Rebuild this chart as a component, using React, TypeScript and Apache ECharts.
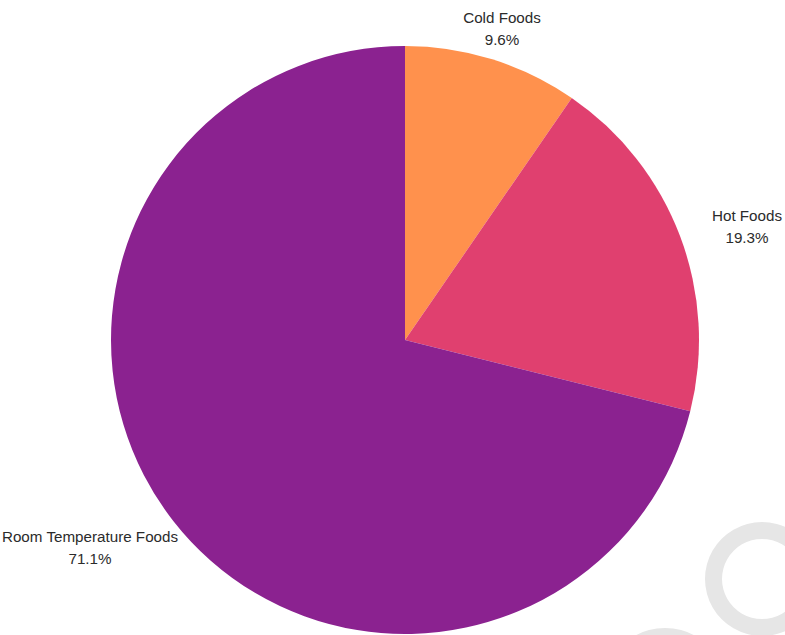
import React, { useEffect, useRef } from 'react';
import * as echarts from 'echarts';

const categories = ['Cold Foods', 'Hot Foods', 'Room Temperature Foods'];
const shares = [9.6, 19.3, 71.1];
const sliceColors = ['#FF914D', '#E0406F', '#8B2290'];
// label anchor points (layout, not data)
const labelCenters: number[][] = [
  [502, 28],
  [747, 226],
  [90, 547],
];

export default function App() {
  const ref = useRef<HTMLDivElement>(null);
  useEffect(() => {
    const chart = echarts.init(ref.current!, null, { renderer: 'svg' });
    chart.setOption({
      animation: false,
      backgroundColor: '#ffffff',
      graphic: [
        {
          type: 'ring',
          shape: { cx: 762, cy: 579, r: 57, r0: 40 },
          style: { fill: '#e6e6e6' },
          silent: true,
          z: 0,
        },
        {
          type: 'ring',
          shape: { cx: 665, cy: 690, r: 62, r0: 45 },
          style: { fill: '#e6e6e6' },
          silent: true,
          z: 0,
        },
      ],
      series: [
        {
          type: 'pie',
          center: [405, 340],
          radius: 294,
          startAngle: 90,
          clockwise: true,
          emphasis: { disabled: true },
          data: categories.map((name, i) => ({
            name,
            value: shares[i],
            itemStyle: { color: sliceColors[i] },
          })),
          label: {
            show: true,
            position: 'outside',
            formatter: (p: any) => `${p.name}\n${Number(p.value).toFixed(1)}%`,
            color: '#2b2b2b',
            fontSize: 15.2,
            lineHeight: 22,
            fontFamily: '"Liberation Sans", Arial, sans-serif',
            align: 'center',
            overflow: 'none',
          },
          labelLine: { show: false },
          labelLayout: (p: any) => ({
            x: labelCenters[p.dataIndex][0],
            y: labelCenters[p.dataIndex][1],
            align: 'center',
            verticalAlign: 'middle',
            width: 400,
          }),
        },
      ],
    });
    return () => chart.dispose();
  }, []);
  return (
    <div
      ref={ref}
      style={{ position: 'absolute', left: 0, top: 0, width: 785, height: 635 }}
    />
  );
}
